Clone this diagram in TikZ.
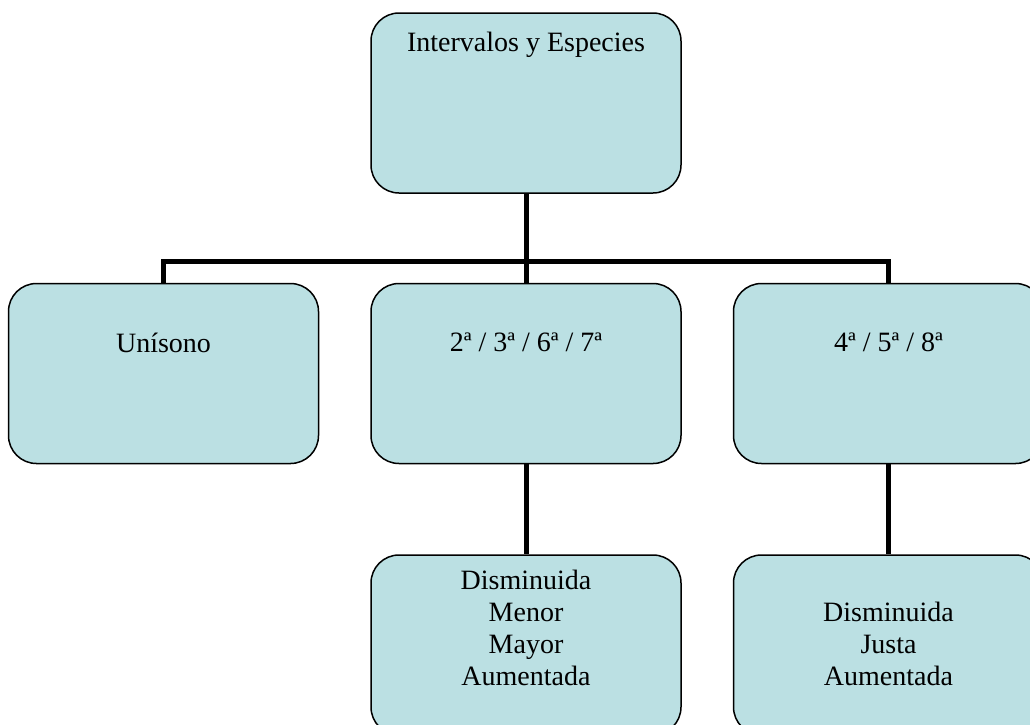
\documentclass[tikz,border=0pt]{standalone}
\usepackage{fontspec}
\setmainfont{Liberation Serif}
\usetikzlibrary{positioning}

\definecolor{cajaazul}{HTML}{BBE0E3}

\begin{document}
\begin{tikzpicture}[x=1pt,y=1pt,
  caja/.style={draw=black, line width=1.5pt, fill=cajaazul, rounded corners=28pt,
    minimum width=310pt, minimum height=180pt, inner sep=0pt},
  texto/.style={anchor=north, align=center, inner sep=0pt,
    font=\fontsize{28}{32}\selectfont},
  rama/.style={line width=5pt}]
\useasboundingbox (0,0) rectangle (1030,-724);

% Cajas
\node[caja] (raiz) at (526,-103) {};
\node[caja, below=89pt of raiz] (terceras) {};
\node[caja, left=51pt of terceras] (unisono) {};
\node[caja, right=51pt of terceras] (justas) {};
\node[caja, below=90pt of terceras] (especies1) {};
\node[caja, below=90pt of justas] (especies2) {};

% Textos
\node[texto] (t-raiz) at ([yshift=-20pt]raiz.north) {Intervalos y Especies};
\node[texto] (t-unisono) at ([yshift=-50pt]unisono.north) {Unísono};
\node[texto] (t-terceras) at ([yshift=-50pt]terceras.north) {2ª / 3ª / 6ª / 7ª};
\node[texto] (t-justas) at ([yshift=-50pt]justas.north) {4ª / 5ª / 8ª};
\node[texto] (t-especies1) at ([yshift=-16pt]especies1.north) {Disminuida\\Menor\\Mayor\\Aumentada};
\node[texto] (t-especies2) at ([yshift=-48pt]especies2.north) {Disminuida\\Justa\\Aumentada};

% Ramas
\coordinate (cruce) at ([yshift=-68pt]raiz.south);
\draw[rama] (raiz.south) -- (terceras.north);
\draw[rama] (unisono.north) |- (cruce) -| (justas.north);
\draw[rama] (terceras.south) -- (especies1.north);
\draw[rama] (justas.south) -- (especies2.north);
\end{tikzpicture}
\end{document}
